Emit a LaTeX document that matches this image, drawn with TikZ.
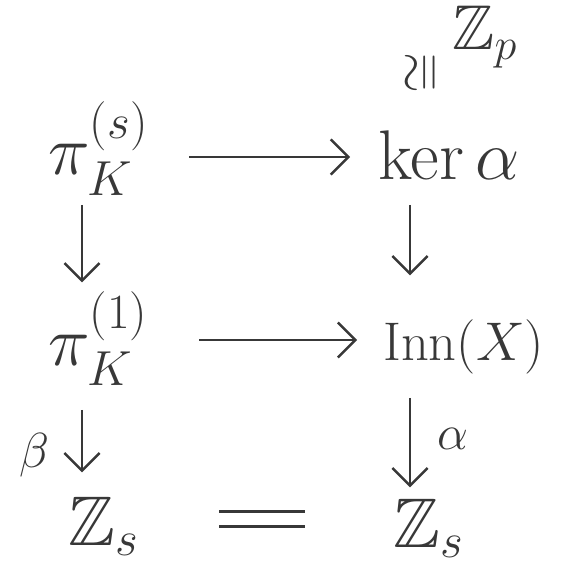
\documentclass[tikz,border=0pt]{standalone}
\usepackage{fix-cm}
\usepackage{amsmath,amssymb}
\usepackage{graphicx}
\usetikzlibrary{arrows.meta}
\definecolor{ink}{HTML}{383838}

\begin{document}
\begin{tikzpicture}[x=0.02cm,y=-0.02cm,
    every node/.style={font=\fontsize{40}{46}\selectfont,text=ink,inner sep=0pt,anchor=base west},
    arr/.style={draw=ink,line width=1.4pt,-{Straight Barb[length=10pt,width=20pt,line width=1.4pt]}},
    lbl/.style={font=\fontsize{28}{32}\selectfont,anchor=center}]
  \useasboundingbox (0,0) rectangle (562,563);
  % top row
  \node (pis) at (48,175) {$\pi^{(s)}_K$};
  \node (kera) at (378,180) {$\ker\alpha$};
  \node[font=\fontsize{36}{40}\selectfont] (zp) at (452,50) {$\mathbb{Z}_p$};
  \node[lbl,font=\fontsize{30}{34}\selectfont] (iso) at (424,73) {\rotatebox{90}{$\cong$}};
  % middle row
  \node (pi1) at (48,365) {$\pi^{(1)}_K$};
  \node[font=\fontsize{31}{36}\selectfont] (inn) at (383,360) {$\mathrm{Inn}(X)$};
  % bottom row
  \node (zsl) at (68,545) {$\mathbb{Z}_s$};
  \node (zsr) at (393,547) {$\mathbb{Z}_s$};
  % rows and columns for the arrows
  \coordinate (r1) at (0,157);
  \coordinate (r2) at (0,340);
  \coordinate (r3) at (0,519);
  \coordinate (cl) at (82,0);
  \coordinate (cr) at (410,0);
  % horizontal maps
  \draw[arr,shorten <=80.5pt,shorten >=15.9pt] (pis.base west |- r1) -- (kera.base west |- r1);
  \draw[arr,shorten <=86.2pt,shorten >=14.7pt] (pi1.base west |- r2) -- (inn.base west |- r2);
  \draw[ink,line width=1.4pt,double,double distance=7pt,shorten <=86.2pt,shorten >=49.9pt]
    (zsl.base west |- r3) -- (zsr.base west |- r3);
  % vertical maps
  \draw[arr,shorten <=17pt,shorten >=47pt] (pis.base -| cl) -- (pi1.base -| cl);
  \draw[arr,shorten <=14.2pt,shorten >=48.2pt] (kera.base -| cr) -- (inn.base -| cr);
  \draw[arr,shorten <=25.5pt,shorten >=41.4pt] (pi1.base -| cl)
    -- node[lbl,left=18pt] (beta) {$\beta$} (zsl.base -| cl);
  \draw[arr,shorten <=21.5pt,shorten >=34pt] (inn.base -| cr)
    -- node[lbl,right=15pt,pos=0.42] (alpha) {$\alpha$} (zsr.base -| cr);
\end{tikzpicture}
\end{document}
